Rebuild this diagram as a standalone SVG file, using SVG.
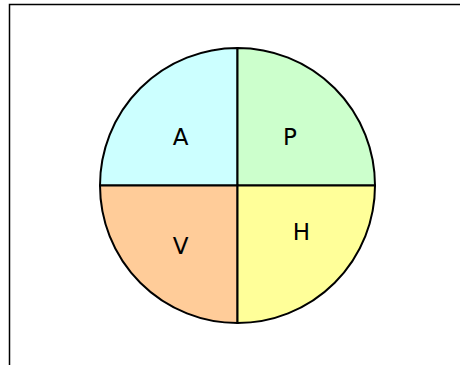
<svg xmlns="http://www.w3.org/2000/svg" width="460" height="365" viewBox="0 0 460 365">
<style>
.q{stroke:#000;stroke-width:2}
.t{font-family:"DejaVu Sans",sans-serif;font-size:23px;fill:#000;text-anchor:middle}
</style>
<rect width="460" height="365" fill="#fff"/>
<path d="M9.5 365V4.5H460" fill="none" stroke="#000" stroke-width="1.5"/>
<g id="A"><path class="q" d="M237.5 185.5H100A137.5 137.5 0 0 1 237.5 48Z" fill="#ccffff"/><text class="t" x="180.5" y="145">A</text></g>
<g id="P"><path class="q" d="M237.5 185.5V48A137.5 137.5 0 0 1 375 185.5Z" fill="#ccffcc"/><text class="t" x="290" y="145">P</text></g>
<g id="V"><path class="q" d="M237.5 185.5H100A137.5 137.5 0 0 0 237.5 323Z" fill="#ffcc99"/><text class="t" x="180.5" y="254">V</text></g>
<g id="H"><path class="q" d="M237.5 185.5V323A137.5 137.5 0 0 0 375 185.5Z" fill="#ffff99"/><text class="t" x="301.5" y="240">H</text></g>
<g id="connectors"></g>
</svg>
